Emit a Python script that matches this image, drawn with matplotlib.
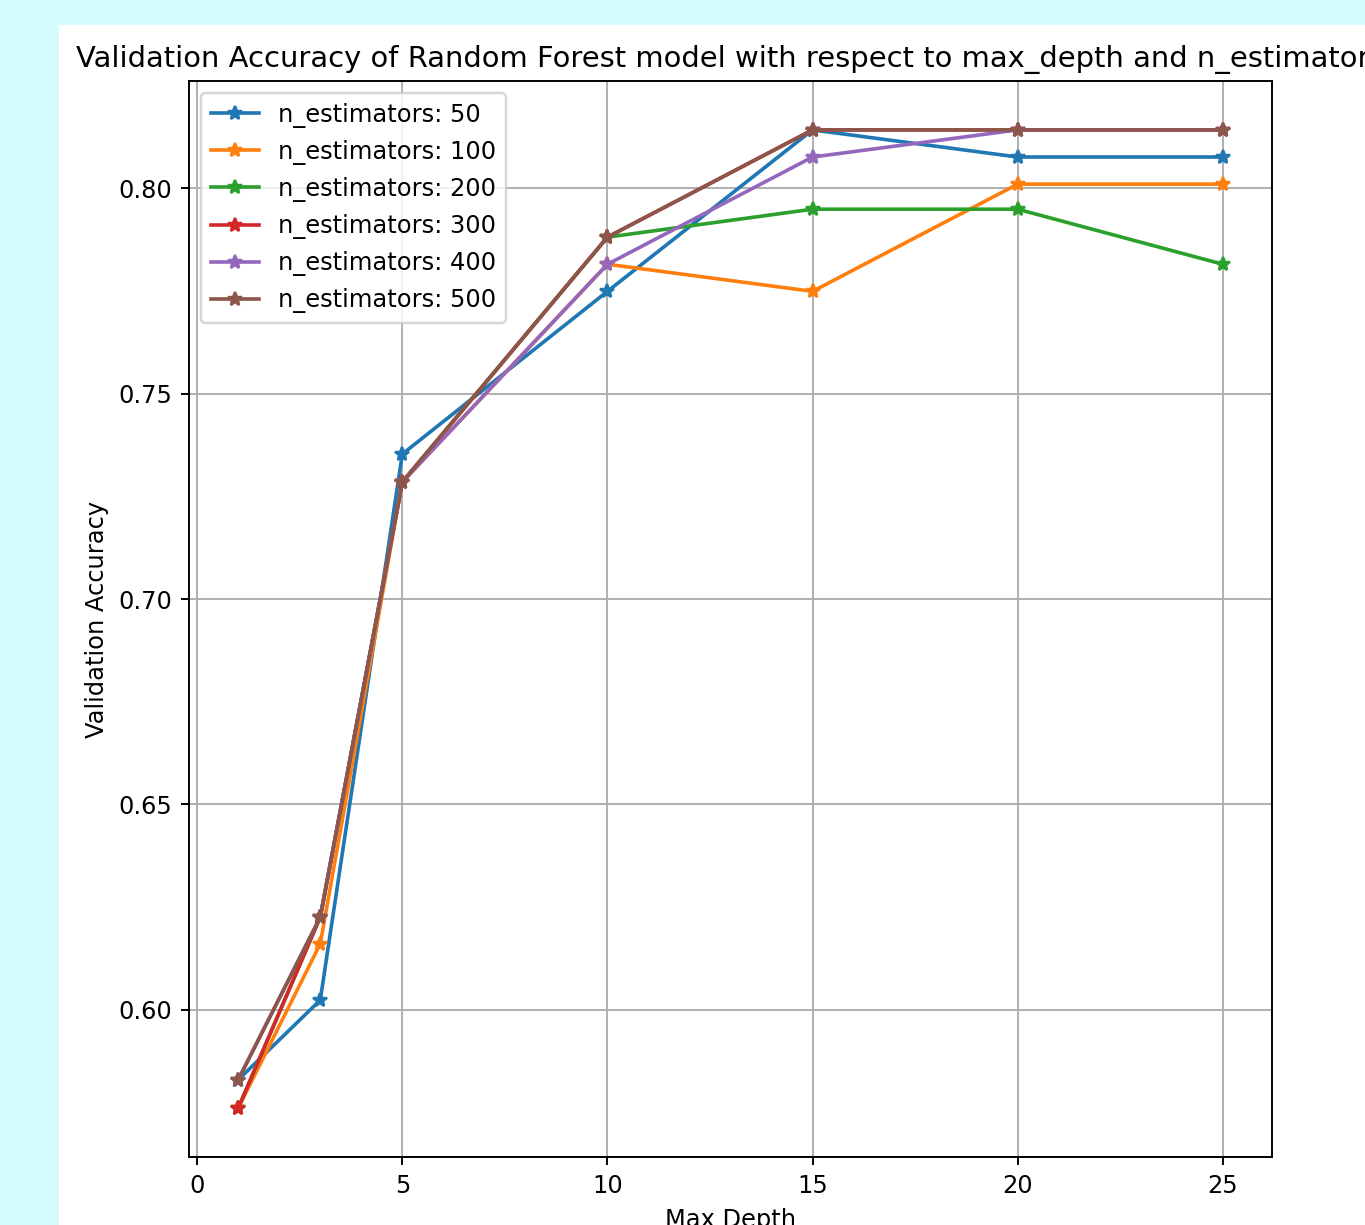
import matplotlib

matplotlib.use("Agg", force=True)
import matplotlib.pyplot as plt
from matplotlib.patches import Rectangle

max_depths = [1, 3, 5, 10, 15, 20, 25]
n_estimators = [50, 100, 200, 300, 400, 500]

acc_50 = [0.5830, 0.6024, 0.7353, 0.7749, 0.8142, 0.8076, 0.8076]
acc_100 = [0.5761, 0.6161, 0.7285, 0.7815, 0.7749, 0.8010, 0.8010]
acc_200 = [0.5761, 0.6226, 0.7285, 0.7881, 0.7949, 0.7949, 0.7815]
acc_300 = [0.5761, 0.6226, 0.7285, 0.7881, 0.8142, 0.8142, 0.8142]
acc_400 = [0.5830, 0.6226, 0.7285, 0.7815, 0.8076, 0.8142, 0.8142]
acc_500 = [0.5830, 0.6226, 0.7285, 0.7881, 0.8142, 0.8142, 0.8142]

accuracies = [acc_50, acc_100, acc_200, acc_300, acc_400, acc_500]

DPI = 174
W, H = 1365, 1225

fig = plt.figure(figsize=(W / DPI, H / DPI), dpi=DPI, facecolor="#d6fbfe")
# white notebook output area inside the cyan page, kept behind the axes
fig.patches.append(Rectangle((59 / W, 0), 1, 1 - 25 / H,
                             transform=fig.transFigure, facecolor="white",
                             edgecolor="none", zorder=-10))
ax = fig.add_axes([189 / W, 68 / H, 1083 / W, 1076 / H])

for n, acc in zip(n_estimators, accuracies):
    ax.plot(max_depths, acc, marker="*", label=f"n_estimators: {n}")

ax.set_title("Validation Accuracy of Random Forest model with respect to max_depth and n_estimators")
ax.set_xlabel("Max Depth")
ax.set_ylabel("Validation Accuracy")
ax.legend(loc="upper left")
ax.grid(True)

fig.savefig("out.png", dpi=DPI, facecolor=fig.get_facecolor())
